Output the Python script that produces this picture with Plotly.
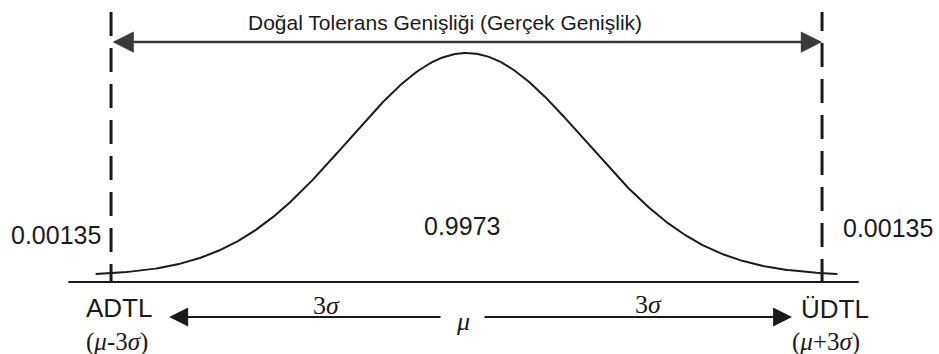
import numpy as np
import plotly.graph_objects as go

# Process model: normal distribution in sigma units
mu = 0.0
sigma = 1.0
k = 3                      # natural tolerance limits at mu ± k·sigma
curve_extent = 3.13        # how far the drawn bell curve runs (in sigma)
tail_prob = 0.00135
center_prob = 0.9973

title_text = "Doğal Tolerans Genişliği (Gerçek Genişlik)"
lower_name = "ADTL"
upper_name = "ÜDTL"
lower_expr = "(<i>μ</i>-3<i>σ</i>)"
upper_expr = "(<i>μ</i>+3<i>σ</i>)"
half_label = "3<i>σ</i>"
mu_label = "<i>μ</i>"

lo = mu - k * sigma
hi = mu + k * sigma

# Bell curve, peak scaled to 1
xs = np.linspace(mu - curve_extent * sigma, mu + curve_extent * sigma, 500)
ys = np.exp(-0.5 * ((xs - mu) / sigma) ** 2)

SANS = "Liberation Sans, Arial, sans-serif"
SERIF = "Liberation Serif, Times New Roman, serif"
INK = "#1a1a1a"

base_y = -0.0285
fig = go.Figure()

# Horizontal axis line
fig.add_trace(go.Scatter(x=[mu - 3.36 * sigma, mu + 3.31 * sigma], y=[base_y, base_y],
                         mode="lines", line=dict(color=INK, width=2), hoverinfo="skip"))
# Normal curve
fig.add_trace(go.Scatter(x=xs, y=ys, mode="lines", line=dict(color=INK, width=2),
                         hoverinfo="skip"))
# Dashed tolerance limits
fig.add_trace(go.Scatter(x=[lo, lo], y=[1.184, -0.033], mode="lines",
                         line=dict(color=INK, width=3, dash="24px,12px"), hoverinfo="skip"))
fig.add_trace(go.Scatter(x=[hi, hi], y=[-0.033, 1.184], mode="lines",
                         line=dict(color=INK, width=3, dash="24px,12px"), hoverinfo="skip"))

annotations = []

# Double-headed arrow for the natural tolerance width
annotations.append(dict(x=hi, y=1.049, ax=lo, ay=1.049, xref="x", yref="y",
                        axref="x", ayref="y", text="", showarrow=True,
                        arrowhead=2, startarrowhead=2, arrowside="end+start",
                        arrowsize=1.7, startarrowsize=1.7, arrowwidth=2.5,
                        arrowcolor="#3a3a3a", standoff=0, startstandoff=0))
annotations.append(dict(x=-0.18, y=1.139, xref="x", yref="y", text=title_text,
                        showarrow=False, font=dict(family=SANS, size=21, color=INK)))

# Bottom arrows from the mean out to the limits
annotations.append(dict(x=-2.51, y=-0.1857, ax=-0.207, ay=-0.1857, xref="x", yref="y",
                        axref="x", ayref="y", text="", showarrow=True, arrowhead=2,
                        arrowsize=1.9, arrowwidth=2, arrowcolor=INK, standoff=0))
annotations.append(dict(x=2.747, y=-0.1857, ax=0.139, ay=-0.1857, xref="x", yref="y",
                        axref="x", ayref="y", text="", showarrow=True, arrowhead=2,
                        arrowsize=1.9, arrowwidth=2, arrowcolor=INK, standoff=0))

def label(x, y, text, family, size, xanchor="center"):
    annotations.append(dict(x=x, y=y, xref="x", yref="y", text=text, showarrow=False,
                            xanchor=xanchor, yanchor="middle",
                            font=dict(family=family, size=size, color=INK)))

label(-0.03, -0.205, mu_label, SERIF, 26)
label(-1.186, -0.133, half_label, SERIF, 26)
label(1.532, -0.128, half_label, SERIF, 26)

label(-3.464, 0.183, f"{tail_prob}", SANS, 25)
label(3.557, 0.214, f"{tail_prob}", SANS, 25)
label(-0.038, 0.223, f"{center_prob}", SANS, 25)

label(-2.937, -0.145, lower_name, SANS, 26)
label(3.11, -0.149, upper_name, SANS, 26)
label(-2.95, -0.297, lower_expr, SERIF, 25)
label(3.03, -0.297, upper_expr, SERIF, 25)

fig.update_layout(
    width=939, height=354,
    margin=dict(l=0, r=0, t=0, b=0),
    paper_bgcolor="white", plot_bgcolor="white",
    showlegend=False,
    xaxis=dict(range=[-3.937, 3.987], visible=False, fixedrange=True),
    yaxis=dict(range=[-0.3518, 1.238], visible=False, fixedrange=True),
    annotations=annotations,
)

fig.write_html("out.html")
